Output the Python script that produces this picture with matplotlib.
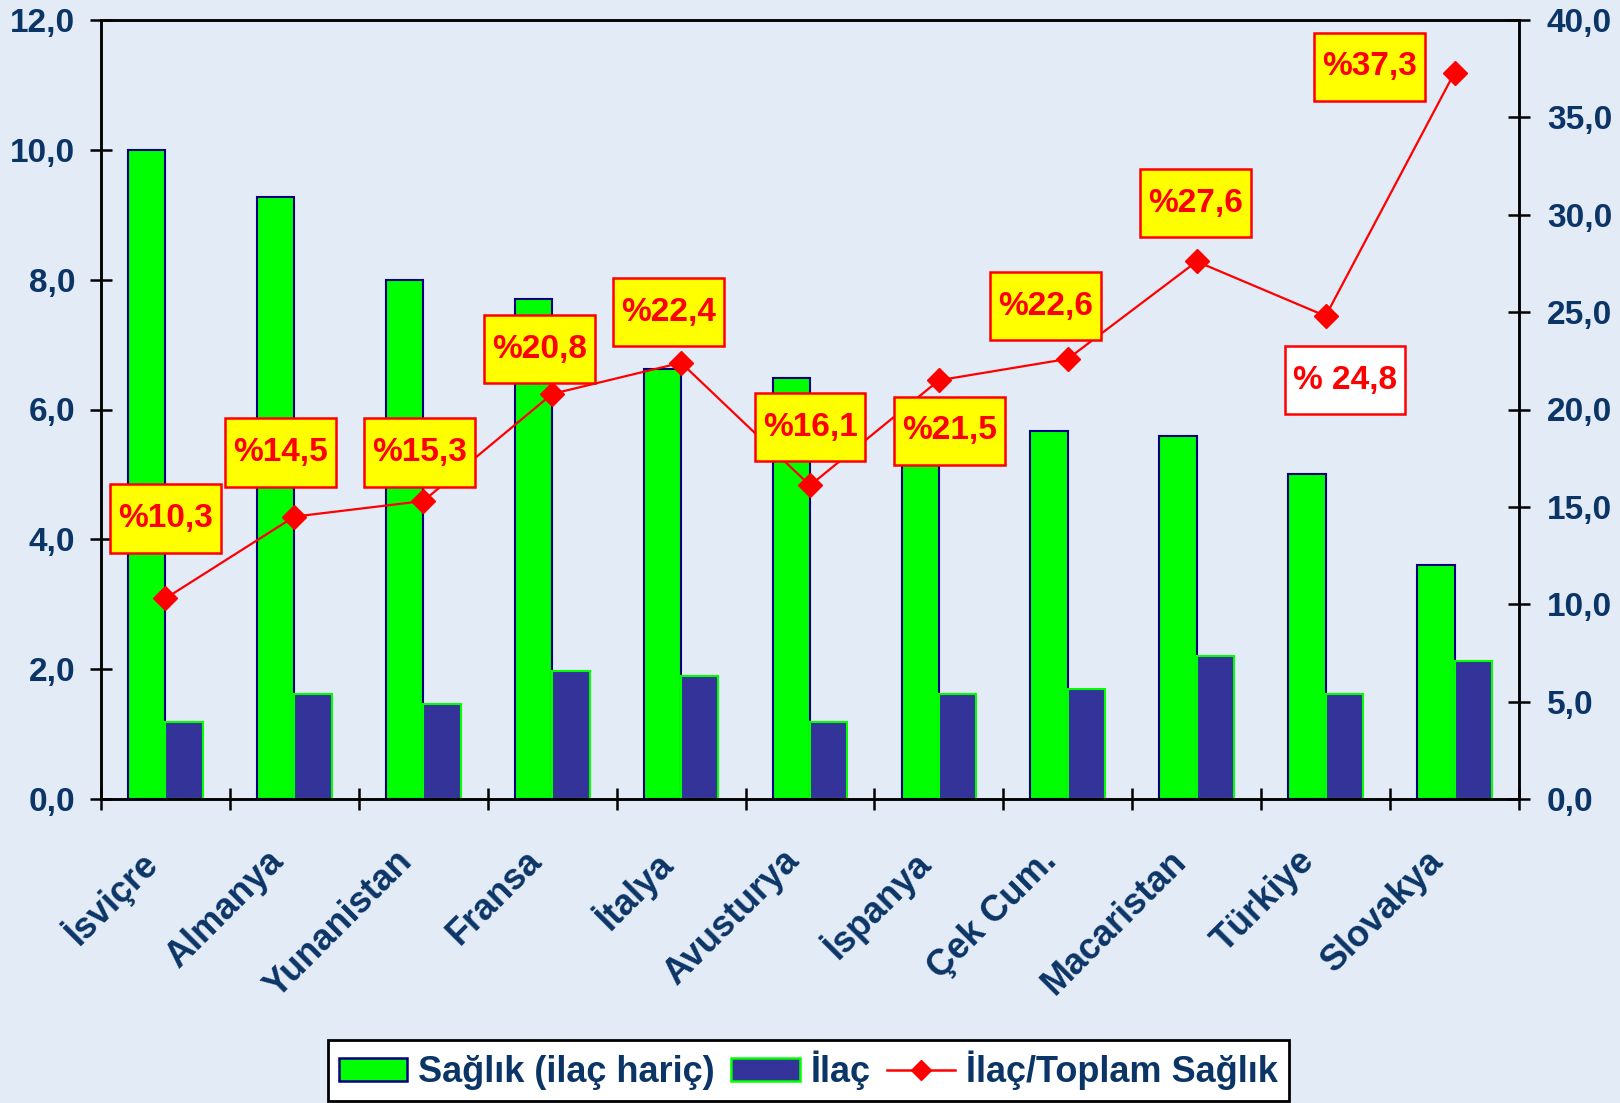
import numpy as np
import matplotlib
matplotlib.use('Agg')
import matplotlib.pyplot as plt
from matplotlib.patches import Patch
from matplotlib.lines import Line2D
from matplotlib.path import Path

countries = ['İsviçre', 'Almanya', 'Yunanistan', 'Fransa', 'İtalya', 'Avusturya',
             'İspanya', 'Çek Cum.', 'Macaristan', 'Türkiye', 'Slovakya']
saglik = [10.0, 9.27, 8.0, 7.7, 6.62, 6.48, 5.9, 5.67, 5.59, 5.0, 3.6]
ilac = [1.18, 1.61, 1.46, 1.97, 1.89, 1.18, 1.61, 1.69, 2.2, 1.61, 2.12]
oran = [10.3, 14.5, 15.3, 20.8, 22.4, 16.1, 21.5, 22.6, 27.6, 24.8, 37.3]
oran_labels = ['%10,3', '%14,5', '%15,3', '%20,8', '%22,4', '%16,1',
               '%21,5', '%22,6', '%27,6', '% 24,8', '%37,3']

# label box offsets from the markers (category units, right-axis units)
lab_dx = [0.0, -0.11, -0.03, -0.10, -0.10, 0.0, 0.08, -0.17, -0.01, 0.15, -0.66]
lab_dy = [4.1, 3.3, 2.5, 2.3, 2.6, 3.0, -2.6, 2.7, 3.0, -3.3, 0.3]

bg = '#E3EBF6'
navy = '#0B3566'
plt.rcParams['font.family'] = ['Liberation Sans', 'DejaVu Sans']
plt.rcParams['font.weight'] = 'bold'


def label_box(x0, y0, width, height, mutation_size):
    # square box with more padding top/bottom than left/right
    px, py = 0.24 * mutation_size, 0.56 * mutation_size
    x0, y0 = x0 - px, y0 - py
    x1, y1 = x0 + width + 2 * px, y0 + height + 2 * py
    return Path([(x0, y0), (x1, y0), (x1, y1), (x0, y1), (x0, y0)], closed=True)


fig = plt.figure(figsize=(16.2, 11.03), dpi=100, facecolor=bg)
ax = fig.add_axes([101/1620, 1 - 799/1103, 1418/1620, 779/1103])
ax.set_facecolor(bg)

x = np.arange(len(countries))
w = 0.29
ax.bar(x - w/2, saglik, w, color='#00FF00', edgecolor='#000080', linewidth=1.5, zorder=2)
ax.bar(x + w/2, ilac, w, color='#333399', edgecolor='#00FF00', linewidth=1.5, zorder=2)

ax.set_xlim(-0.5, len(countries) - 0.5)
ax.set_ylim(0, 12)
ax.set_yticks(np.arange(0, 12.1, 2))
ax.set_yticklabels([f'{v:.1f}'.replace('.', ',') for v in np.arange(0, 12.1, 2)])
ax.set_xticks(np.arange(-0.5, len(countries), 1))
ax.set_xticklabels([])
# category names sit a bit left of the category centre
ax.set_xticks(x - 0.22, minor=True)
ax.set_xticklabels(countries, minor=True, rotation=45, ha='right', va='top',
                   rotation_mode='anchor', fontsize=26, color=navy)
ax.tick_params(axis='x', which='minor', length=0, pad=32)
ax.tick_params(axis='x', which='major', direction='inout', length=16, width=1.8)
ax.tick_params(axis='y', direction='inout', length=16, width=1.8, labelsize=24,
               labelcolor=navy, pad=10.5)
for s in ax.spines.values():
    s.set_linewidth(1.8)

ax2 = ax.twinx()
ax2.plot(x, oran, color='red', lw=1.6, marker='D', markersize=12, zorder=3)
ax2.set_ylim(0, 40)
ax2.set_yticks(np.arange(0, 40.1, 5))
ax2.set_yticklabels([f'{v:.1f}'.replace('.', ',') for v in np.arange(0, 40.1, 5)])
ax2.tick_params(axis='y', direction='inout', length=16, width=1.8, labelsize=24,
                labelcolor=navy, pad=12)
for s in ax2.spines.values():
    s.set_linewidth(1.8)

for i, (v, t) in enumerate(zip(oran, oran_labels)):
    face = 'white' if i == 9 else '#FFFF00'
    ax2.text(i + lab_dx[i], v + lab_dy[i], t, ha='center', va='center',
             fontsize=24, color='#FF0000', zorder=5,
             bbox=dict(boxstyle=label_box, fc=face, ec='#FF0000', lw=1.8))

handles = [Patch(facecolor='#00FF00', edgecolor='#000080', linewidth=1.8),
           Patch(facecolor='#333399', edgecolor='#00FF00', linewidth=1.8),
           Line2D([], [], color='red', lw=1.8, marker='D', markersize=10)]
leg = fig.legend(handles, ['Sağlık (ilaç hariç)', 'İlaç', 'İlaç/Toplam Sağlık'],
                 loc='lower center', bbox_to_anchor=(0.499, 0.002), ncol=3,
                 fontsize=26, frameon=True, fancybox=False, edgecolor='black',
                 facecolor='white', framealpha=1, handlelength=1.9,
                 handleheight=0.6, handletextpad=0.3, columnspacing=0.45,
                 borderpad=0.3, borderaxespad=0)
leg.get_frame().set_linewidth(2)
for t in leg.get_texts():
    t.set_color(navy)

fig.savefig('out.png', dpi=100, facecolor=bg)
